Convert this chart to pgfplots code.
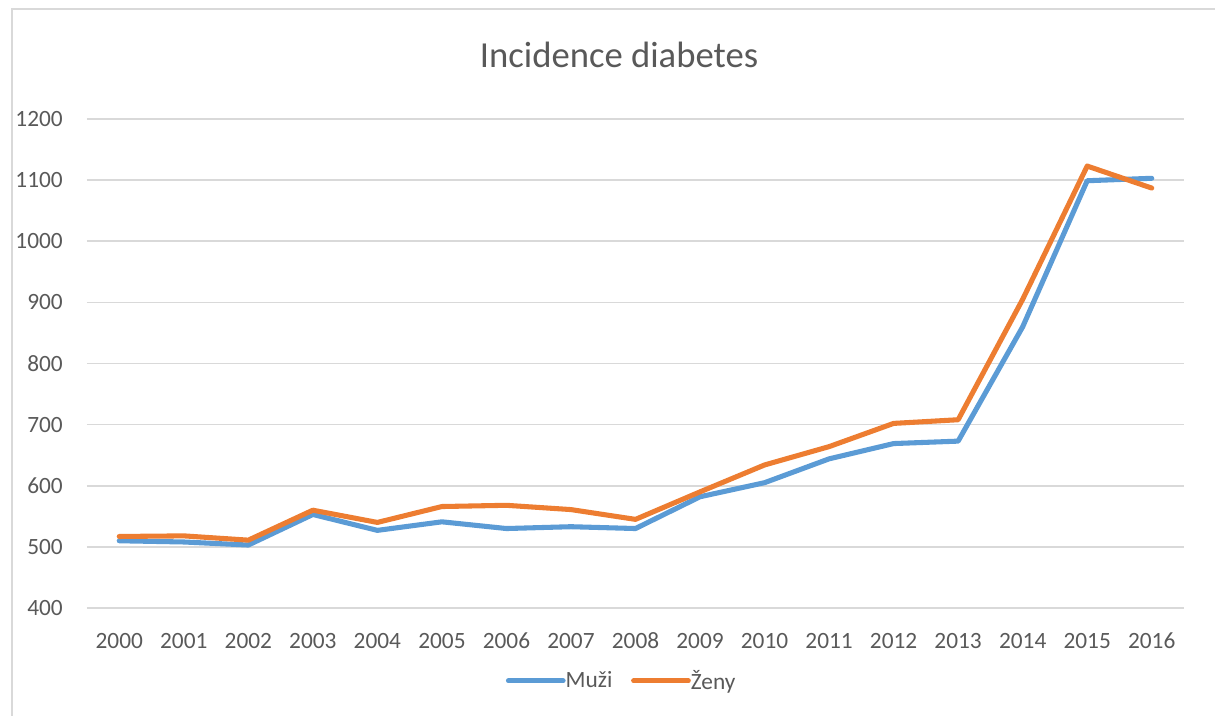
\documentclass[border=0pt]{standalone}
\usepackage{pgfplots}
\pgfplotsset{compat=1.18}
\usepackage{fontspec}
\setmainfont{Carlito}
\definecolor{muzi}{HTML}{5B9BD5}
\definecolor{zeny}{HTML}{ED7D31}
\definecolor{txt}{HTML}{595959}
\definecolor{grd}{HTML}{D9D9D9}
\begin{document}
\begin{tikzpicture}[x=0.75pt,y=0.75pt]
  % picture in pixel units: 1215 x 715, origin bottom left
  \useasboundingbox (0,0) rectangle (1215,715);
  \draw[grd, line width=1.2pt] (12,-10) -- (12,706) -- (1230,706);
  \node[txt, font=\fontsize{27.5}{33}\selectfont] at (619,660) {Incidence diabetes};
  \begin{axis}[
      at={(87pt*0.75,107pt*0.75)}, anchor=south west,
      scale only axis,
      width=822.75pt, height=366.75pt,
      xmin=-0.5, xmax=16.5,
      ymin=400, ymax=1200,
      ytick={400,500,...,1200},
      xtick={0,...,16},
      xticklabels={2000,2001,2002,2003,2004,2005,2006,2007,2008,2009,2010,2011,2012,2013,2014,2015,2016},
      /pgf/number format/.cd, 1000 sep={}, assume math mode=true, /pgfplots/.cd,
      axis line style={draw=none},
      tick style={draw=none},
      ymajorgrids,
      grid style={grd, line width=1.2pt},
      tick label style={txt, font=\fontsize{17.5}{21}\selectfont, inner sep=0pt},
      yticklabel style={xshift=-18pt},
      xticklabel style={yshift=-18.5pt},
      legend style={at={(0.4877,-0.149)}, anchor=center, draw=none, fill=none,
        legend columns=2, text=txt, font=\fontsize{17.5}{21}\selectfont,
        /tikz/every even column/.append style={column sep=12pt},
        /tikz/every odd column/.append style={column sep=-2pt},
        inner sep=0pt},
      legend image code/.code={\draw[#1, line cap=round] (0pt,0pt) -- (41pt,0pt);},
      legend cell align=left,
    ]
    \addplot[muzi, line width=3.8pt, line join=round, line cap=round] coordinates {
      (0,510) (1,508) (2,503) (3,553) (4,527) (5,541) (6,530) (7,533) (8,530)
      (9,582) (10,605) (11,644) (12,669) (13,673) (14,860) (15,1099) (16,1103)
    };
    \addlegendentry{Muži}
    \addplot[zeny, line width=3.8pt, line join=round, line cap=round] coordinates {
      (0,517) (1,518) (2,511) (3,560) (4,540) (5,566) (6,568) (7,561) (8,545)
      (9,590) (10,634) (11,664) (12,702) (13,708) (14,905) (15,1123) (16,1087)
    };
    \addlegendentry{Ženy}
  \end{axis}
\end{tikzpicture}
\end{document}
